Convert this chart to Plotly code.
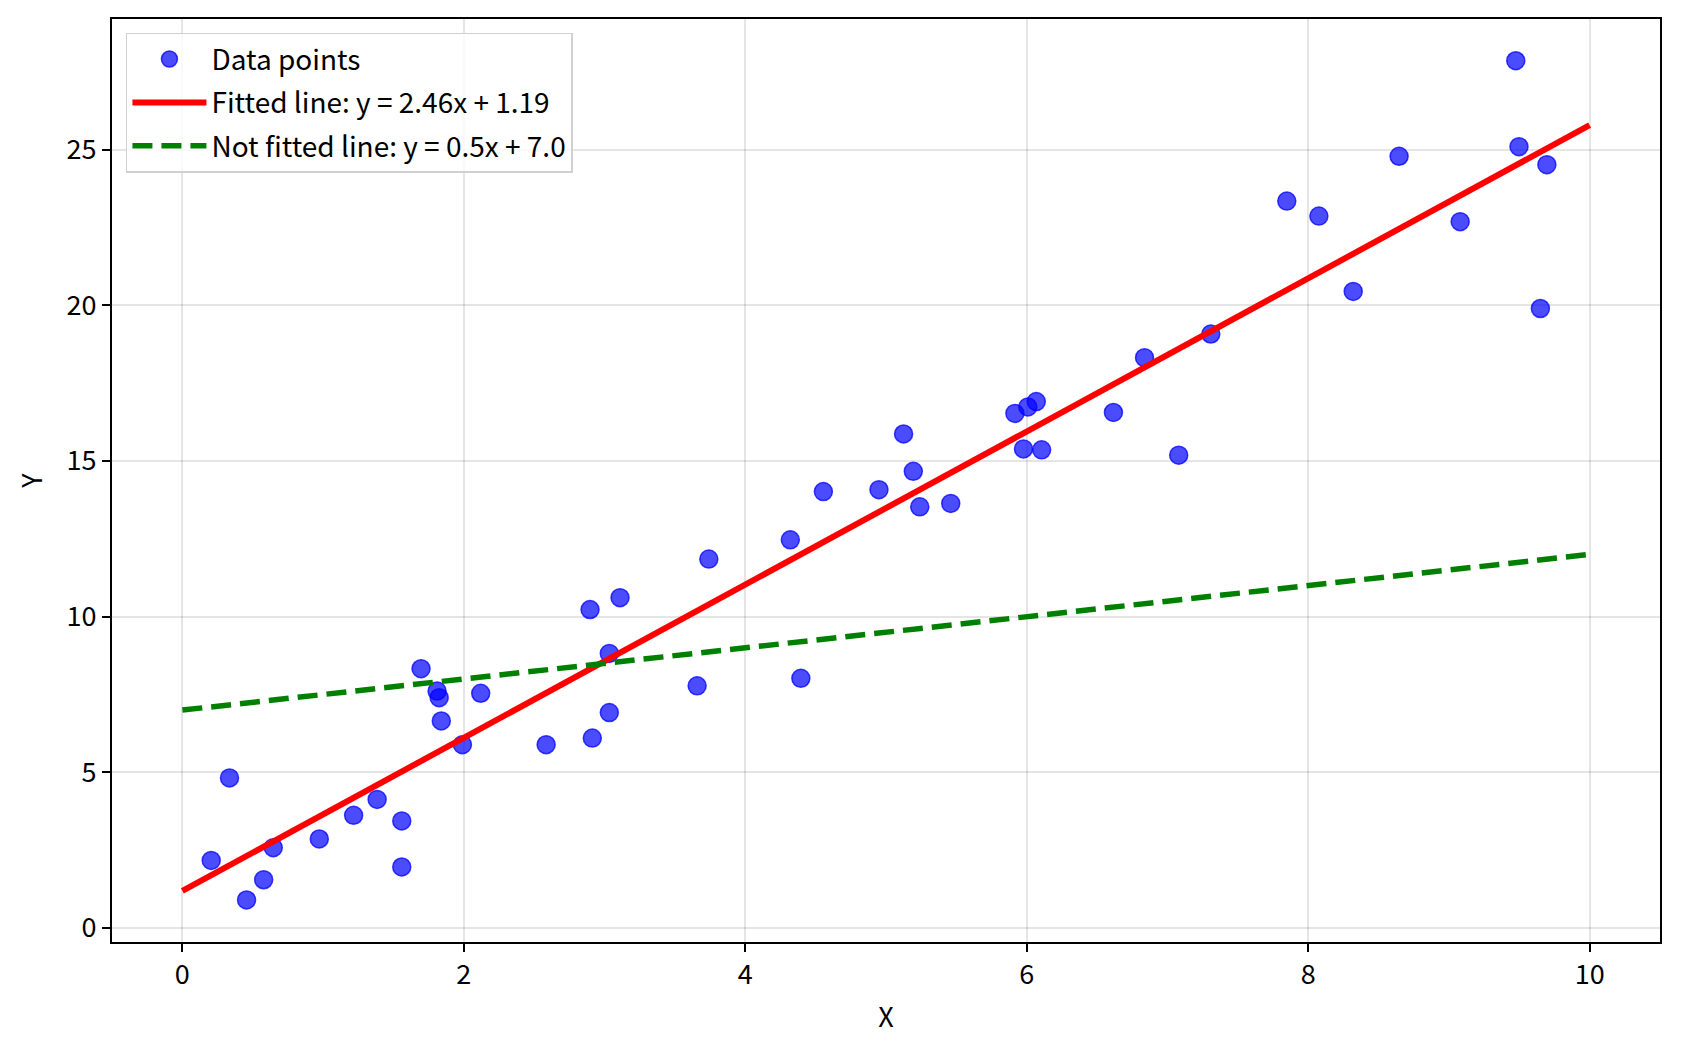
import plotly.graph_objects as go

x_points = [0.205, 0.335, 0.456, 0.578, 0.646, 0.973, 1.217, 1.384, 1.559, 1.559,
            1.696, 1.81, 1.825, 1.84, 1.99, 2.12, 2.585, 2.897, 2.913, 3.034,
            3.034, 3.11, 3.658, 3.741, 4.32, 4.395, 4.555, 4.95, 5.125, 5.194,
            5.24, 5.46, 5.916, 5.977, 6.008, 6.068, 6.106, 6.616, 6.837, 7.08,
            7.308, 7.848, 8.076, 8.32, 8.646, 9.08, 9.475, 9.498, 9.65, 9.696]
y_points = [2.17, 4.82, 0.90, 1.55, 2.58, 2.86, 3.62, 4.13, 3.44, 1.96,
            8.33, 7.61, 7.40, 6.65, 5.89, 7.54, 5.89, 10.23, 6.10, 8.82,
            6.92, 10.61, 7.78, 11.85, 12.47, 8.02, 14.02, 14.08, 15.87, 14.67,
            13.53, 13.64, 16.53, 15.39, 16.74, 16.91, 15.36, 16.56, 18.32, 15.19,
            19.08, 23.35, 22.87, 20.45, 24.79, 22.69, 27.86, 25.10, 19.90, 24.52]

line_x = [0, 10]
fit_slope, fit_intercept = 2.46, 1.19
bad_slope, bad_intercept = 0.5, 7.0
fit_y = [fit_slope * v + fit_intercept for v in line_x]
bad_y = [bad_slope * v + bad_intercept for v in line_x]

x_ticks = [0, 2, 4, 6, 8, 10]
y_ticks = [0, 5, 10, 15, 20, 25]

FONT = "Noto Sans CJK SC"
FS = 27

fig = go.Figure()
fig.add_trace(go.Scatter(
    x=x_points, y=y_points, mode="markers", name="Data points", legendgroup="a",
    marker=dict(size=18, color="rgba(0,0,255,0.7)",
                line=dict(color="rgba(0,0,255,0.75)", width=1.5)),
))
fig.add_trace(go.Scatter(
    x=line_x, y=fit_y, mode="lines", legendgroup="b",
    name=f"Fitted line: y = {fit_slope}x + {fit_intercept}",
    line=dict(color="red", width=6),
))
fig.add_trace(go.Scatter(
    x=line_x, y=bad_y, mode="lines", legendgroup="c",
    name=f"Not fitted line: y = {bad_slope}x + {bad_intercept}",
    line=dict(color="green", width=5.5, dash="20px,9px"),
))

axis_common = dict(
    showline=True, linecolor="black", linewidth=2, mirror=True,
    ticks="outside", ticklen=8, tickwidth=2, tickcolor="black",
    showgrid=True, gridcolor="rgba(0,0,0,0.1)", gridwidth=1.5,
    zeroline=False, tickfont=dict(family=FONT, size=FS, color="black"),
)

fig.update_layout(
    width=1681, height=1054,
    margin=dict(l=112, r=21, t=19, b=112),
    paper_bgcolor="white", plot_bgcolor="white",
    font=dict(family=FONT, size=FS, color="black"),
    xaxis=dict(range=[-0.5, 10.5], tickvals=x_ticks,
               title=dict(text="X", font=dict(family=FONT, size=FS), standoff=17),
               **axis_common),
    yaxis=dict(range=[-0.45, 29.2], tickvals=y_ticks,
               title=dict(text="Y", font=dict(family=FONT, size=FS), standoff=16),
               **axis_common),
    legend=dict(x=0.009, y=0.985, xanchor="left", yanchor="top",
                bgcolor="rgba(255,255,255,0.8)", bordercolor="#d0d0d0", borderwidth=1.5,
                font=dict(family=FONT, size=28), itemwidth=74,
                traceorder="grouped", tracegroupgap=4),
    showlegend=True,
)

fig.write_html("out.html")
